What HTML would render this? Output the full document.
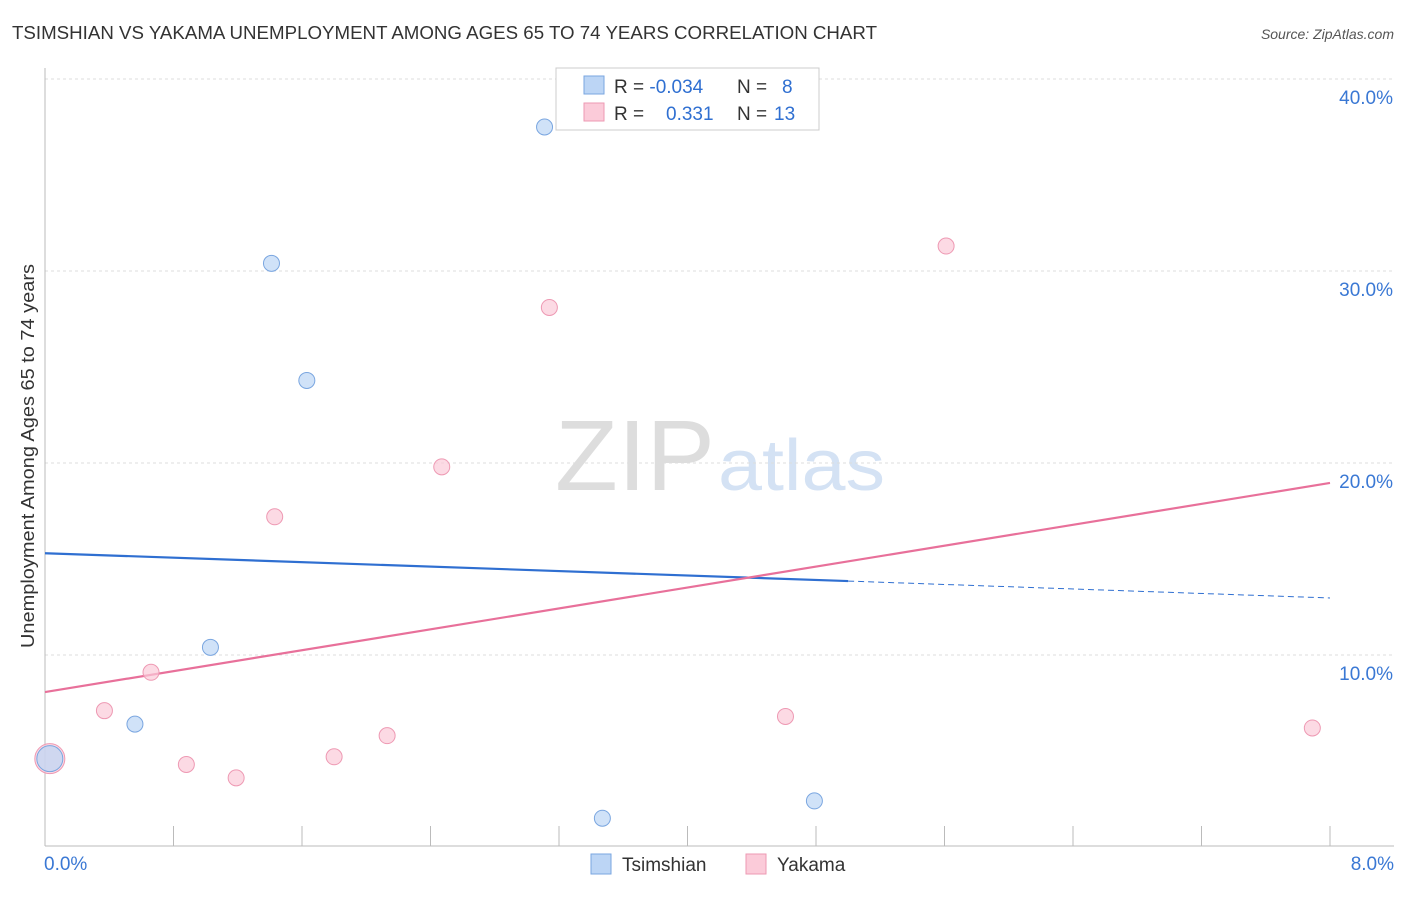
<!DOCTYPE html>
<html><head><meta charset="utf-8"><style>
body{margin:0;background:#fff;font-family:"Liberation Sans",sans-serif;}
svg text{font-family:"Liberation Sans",sans-serif;}
</style></head><body>
<svg id="c" width="1406" height="892">
<text x="12" y="39" font-size="18" fill="#333" textLength="865" lengthAdjust="spacingAndGlyphs">TSIMSHIAN VS YAKAMA UNEMPLOYMENT AMONG AGES 65 TO 74 YEARS CORRELATION CHART</text>
<text x="1394" y="39" font-size="14" fill="#555" font-style="italic" text-anchor="end">Source: ZipAtlas.com</text>
<text x="555" y="490" font-size="100" fill="#ddd" font-family="Liberation Serif" textLength="160" lengthAdjust="spacingAndGlyphs">ZIP</text>
<text x="718" y="490" font-size="72" fill="#d4e2f4" textLength="167" lengthAdjust="spacingAndGlyphs">atlas</text>
<text transform="translate(34,456) rotate(-90)" font-size="18" fill="#333" text-anchor="middle" textLength="384" lengthAdjust="spacingAndGlyphs">Unemployment Among Ages 65 to 74 years</text>
<g id="grid"></g><g id="lines"></g><g id="pts"></g>
<g>
<rect x="556" y="68" width="263" height="62" fill="#fff" stroke="#ccc"/>
<rect x="584" y="76" width="20" height="18" fill="#bcd5f5" stroke="#7aa6e0"/>
<rect x="584" y="103" width="20" height="18" fill="#fbcbd9" stroke="#ee99b3"/>
<text x="614" y="93" font-size="19" fill="#333">R = <tspan fill="#2f6fd1">-0.034</tspan><tspan x="737">N = </tspan><tspan x="782" fill="#2f6fd1">8</tspan></text>
<text x="614" y="120" font-size="19" fill="#333">R = <tspan x="666" fill="#2f6fd1">0.331</tspan><tspan x="737">N = </tspan><tspan x="774" fill="#2f6fd1">13</tspan></text>
</g>
<g>
<rect x="591" y="854" width="20" height="20" fill="#bcd5f5" stroke="#7aa6e0"/>
<text x="622" y="871" font-size="19" fill="#333">Tsimshian</text>
<rect x="746" y="854" width="20" height="20" fill="#fbcbd9" stroke="#ee99b3"/>
<text x="777" y="871" font-size="19" fill="#333">Yakama</text>
</g>
</svg>
<script>
const yTicks=[10,20,30,40];
const xTickLabels=["0.0%","8.0%"];
const tsX=[0.03,0.56,1.03,1.41,1.63,3.11,3.47,4.79];
const tsY=[4.6,6.4,10.4,30.4,24.3,37.5,1.5,2.4];
const yaX=[0.03,0.37,0.66,0.88,1.19,1.43,1.80,2.13,2.47,3.14,4.61,5.61,7.89];
const yaY=[4.6,7.1,9.1,4.3,3.6,17.2,4.7,5.8,19.8,28.1,6.8,31.3,6.2];
const tsLine=[15.3,13.85,12.97];
const yaLine=[8.07,18.96];
const NS="http://www.w3.org/2000/svg";
const sx=v=>45+v/8*1285, sy=v=>847-v*19.2;
function mk(t,a,p){const e=document.createElementNS(NS,t);for(const k in a)e.setAttribute(k,a[k]);p.appendChild(e);return e;}
const g=document.getElementById('grid');
yTicks.forEach(v=>{
 const l=mk('line',{x1:45,x2:1394,y1:sy(v),y2:sy(v),stroke:'#ddd','stroke-dasharray':'3,3'},g);
 
 
 const t=mk('text',{x:1393,y:sy(v)+25,'font-size':19,fill:'#3a78d4','text-anchor':'end'},g);t.textContent=v.toFixed(1)+'%';
 
 
});
const ax=mk('line',{x1:45,x2:1394,y1:846,y2:846,stroke:'#bbb'},g);


const ay=mk('line',{x1:45,x2:45,y1:68,y2:846,stroke:'#bbb'},g);


for(let i=0;i<=10;i++){const tk=mk('line',{x1:sx(i*0.8),x2:sx(i*0.8),y1:826,y2:846,stroke:'#bbb'},g);
 
 }
[[0,'start',44],[8,'end',1394]].forEach((d,i)=>{const t=mk('text',{x:d[2],y:870,'font-size':19,fill:'#3a78d4','text-anchor':d[1]},g);t.textContent=xTickLabels[i];
 
 });
const L=document.getElementById('lines');
let a=mk('line',{x1:sx(0),y1:sy(tsLine[0]),x2:sx(5),y2:sy(tsLine[1]),stroke:'#2f6fd1','stroke-width':2.2},L);


a=mk('line',{x1:sx(5),y1:sy(tsLine[1]),x2:sx(8),y2:sy(tsLine[2]),stroke:'#2f6fd1','stroke-width':1,'stroke-dasharray':'6,4'},L);


a=mk('line',{x1:sx(0),y1:sy(yaLine[0]),x2:sx(8),y2:sy(yaLine[1]),stroke:'#e8709a','stroke-width':2.2},L);


const P=document.getElementById('pts');
yaX.forEach((x,i)=>{const c=mk('circle',{cx:sx(x),cy:sy(yaY[i]),r:i==0?15:8,fill:'#fbcbd9','fill-opacity':0.7,stroke:'#ee99b3'},P);
 
 });
tsX.forEach((x,i)=>{const c=mk('circle',{cx:sx(x),cy:sy(tsY[i]),r:i==0?13:8,fill:'#bcd5f5','fill-opacity':0.7,stroke:'#7aa6e0'},P);
 
 });
</script>
</body></html>
